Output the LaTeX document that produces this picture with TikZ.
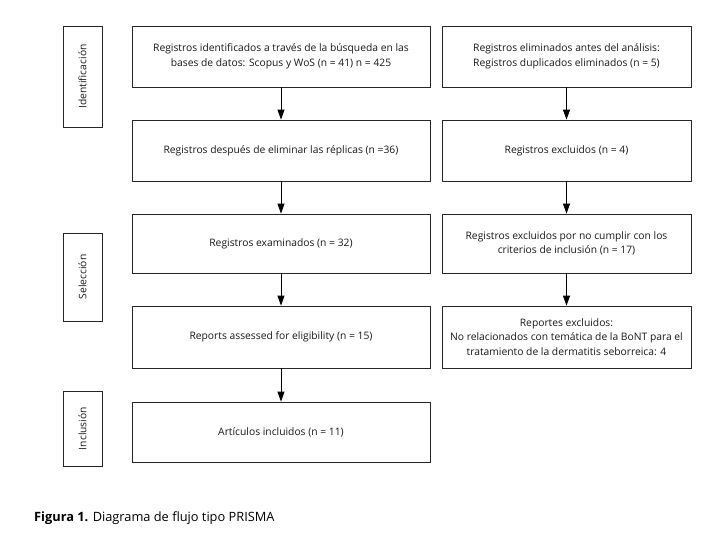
\documentclass[tikz,border=0pt]{standalone}
\usepackage{fontspec}
\setmainfont{Open Sans}
\usetikzlibrary{arrows.meta}
\begin{document}
\begin{tikzpicture}[x=1pt,y=-1pt,
  box/.style={draw=black!85,line width=0.8pt,align=center,inner sep=0pt,
    font=\fontsize{10.3}{14.5}\selectfont,text=black!90},
  lbox/.style={box,minimum width=298pt},
  rbox/.style={box,minimum width=249pt},
  stagebox/.style={draw=black!85,line width=0.8pt,minimum width=39pt,inner sep=0pt},
  stagetext/.style={rotate=90,font=\fontsize{10.3}{14.5}\selectfont,text=black!90},
  arr/.style={line width=0.8pt,-{Triangle[width=7pt,length=10pt]}}]
\useasboundingbox (0,0) rectangle (716,542);
\fill[white] (0,0) rectangle (716,542);
% stage boxes
\node[stagebox,minimum height=101pt] (s1) at (82.5,76.5) {};
\node[stagetext] (s1t) at (s1) {Identificación};
\node[stagebox,minimum height=88pt] (s2) at (82.5,277) {};
\node[stagetext] (s2t) at (s2) {Selección};
\node[stagebox,minimum height=75pt] (s3) at (82.5,428.5) {};
\node[stagetext] (s3t) at (s3) {Inclusión};
% left column
\node[lbox,minimum height=61pt] (l1) at (281,56.5) {Registros identificados a través de la búsqueda en las\\bases de datos: Scopus y WoS (n = 41) n = 425};
\node[lbox,minimum height=61pt] (l2) at (281,150.5) {Registros después de eliminar las réplicas (n =36)};
\node[lbox,minimum height=59pt] (l3) at (281,243.5) {Registros examinados (n = 32)};
\node[lbox,minimum height=62pt] (l4) at (281,337) {Reports assessed for eligibility (n = 15)};
\node[lbox,minimum height=60pt] (l5) at (281,432) {Artículos incluidos (n = 11)};
% right column
\node[rbox,minimum height=61pt] (r1) at (566.5,56.5) {Registros eliminados antes del análisis:\\Registros duplicados eliminados (n = 5)};
\node[rbox,minimum height=61pt] (r2) at (566.5,150.5) {Registros excluidos (n = 4)};
\node[rbox,minimum height=59pt] (r3) at (566.5,243.5) {Registros excluidos por no cumplir con los\\criterios de inclusión (n = 17)};
\node[rbox,minimum height=62pt] (r4) at (566.5,337) {Reportes excluidos:\\No relacionados con temática de la BoNT para el\\tratamiento de la dermatitis seborreica: 4};
% arrows
\draw[arr] (l1) -- (l2);
\draw[arr] (l2) -- (l3);
\draw[arr] (l3) -- (l4);
\draw[arr] (l4) -- (l5);
\draw[arr] (r1) -- (r2);
\draw[arr] (r2) -- (r3);
\draw[arr] (r3) -- (r4);
% caption
\node[anchor=west,inner sep=0pt,font=\fontsize{12.8}{15}\selectfont] (cap) at (34,518) {\textbf{Figura 1.} Diagrama de flujo tipo PRISMA};
\end{tikzpicture}
\end{document}
